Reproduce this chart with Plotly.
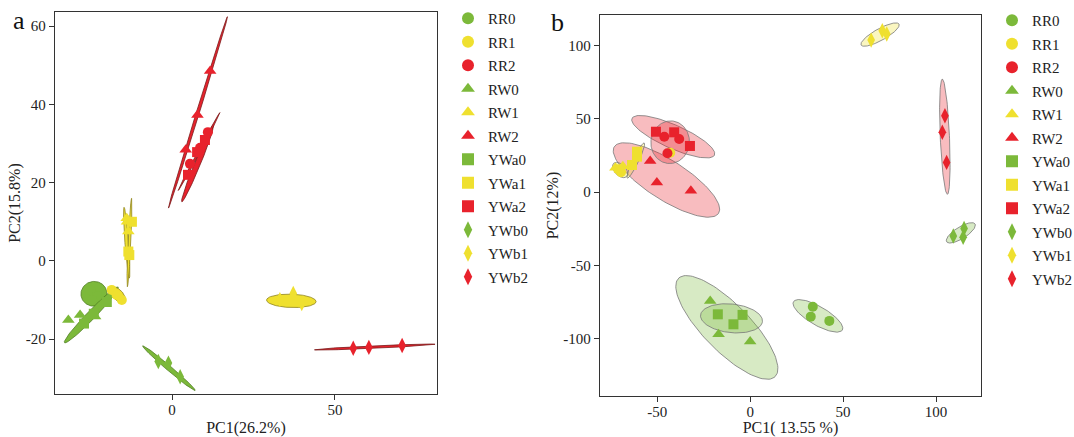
import numpy as np
import plotly.graph_objects as go

W, H = 1074, 437
GROUPS = ["RR0", "RR1", "RR2", "RW0", "RW1", "RW2", "YWa0", "YWa1", "YWa2", "YWb0", "YWb1", "YWb2"]
COLORS = {"0": "#7cb93a", "1": "#efe02f", "2": "#e8222c"}
EDGE_A = {"0": "#4f7d22", "1": "#8f8420", "2": "#7a1a1a"}
SYMBOLS = {"RR": "circle", "RW": "triangle-up", "YWa": "square", "YWb": "diamond-tall"}

# ---------------- panel a: scores ----------------
a_RR0_x = [-25.0, -23.0, -24.5]; a_RR0_y = [-7.5, -9.0, -10.0]
a_RR1_x = [-18.5, -17.0, -15.4]; a_RR1_y = [-7.4, -8.7, -10.0]
a_RR2_x = [5.5, 8.6, 11.0];      a_RR2_y = [24.8, 28.9, 32.9]
a_RW0_x = [-31.8, -28.2, -23.6]; a_RW0_y = [-15.1, -13.8, -14.2]
a_RW1_x = [-13.9, -13.4, -13.8]; a_RW1_y = [10.9, 7.5, 10.0]
a_RW2_x = [4.2, 7.8, 11.7];      a_RW2_y = [28.4, 37.3, 48.5]
a_YWa0_x = [-27.0, -24.0, -20.0]; a_YWa0_y = [-16.0, -13.5, -10.5]
a_YWa1_x = [-12.3, -13.4, -13.1]; a_YWa1_y = [10.0, 2.4, 1.5]
a_YWa2_x = [4.9, 7.7, 10.1];     a_YWa2_y = [22.0, 27.8, 30.9]
a_YWb0_x = [-4.2, -1.1, 2.5];    a_YWb0_y = [-25.7, -26.1, -29.6]
a_YWb1_x = [33.1, 37.2, 39.8];   a_YWb1_y = [-9.9, -8.3, -10.9]
a_YWb2_x = [55.6, 60.4, 70.6];   a_YWb2_y = [-22.3, -22.1, -21.6]

# panel a ellipses: group, major-axis end points (x1, y1, x2, y2), minor/major ratio
a_ell_group = ["RR0", "RW0", "YWb0", "RR1", "RW1", "YWa1", "RW2", "RR2", "YWa2", "YWb1", "YWb2"]
a_ell_x1 = [-27.9, -33.0, -9.0, -18.4, -14.7, -12.4, -1.1, 3.0, 1.9, 29.0, 43.7]
a_ell_y1 = [-8.9, -20.9, -21.7, -6.9, 13.7, 16.0, 13.5, 15.1, 18.0, -10.0, -22.7]
a_ell_x2 = [-20.0, -16.5, 7.1, -14.7, -13.1, -13.7, 17.0, 12.7, 14.7, 44.2, 80.7]
a_ell_y2 = [-7.9, -6.7, -33.1, -10.5, -4.4, -6.6, 62.4, 34.7, 37.9, -10.4, -21.3]
a_ell_ratio = [0.95, 0.11, 0.07, 0.55, 0.05, 0.03, 0.015, 0.07, 0.025, 0.27, 0.02]

# ---------------- panel b: scores ----------------
b_RR0_x = [33.7, 32.6, 42.6];    b_RR0_y = [-78.2, -85.0, -87.9]
b_RR1_x = [-69.5, -71.0, -43.0]; b_RR1_y = [13.5, 15.5, 26.8]
b_RR2_x = [-46.2, -38.2, -44.5]; b_RR2_y = [37.7, 36.1, 26.4]
b_RW0_x = [-21.5, -17.0, 0.0];   b_RW0_y = [-74.3, -97.0, -102.0]
b_RW1_x = [-72.5, -70.0, -68.5]; b_RW1_y = [16.5, 15.0, 17.5]
b_RW2_x = [-53.8, -50.2, -31.9]; b_RW2_y = [21.1, 6.4, 0.9]
b_YWa0_x = [-17.4, -4.1, -9.0];  b_YWa0_y = [-83.4, -83.8, -90.2]
b_YWa1_x = [-63.6, -60.9, -60.9]; b_YWa1_y = [18.4, 24.1, 27.5]
b_YWa2_x = [-50.7, -40.9, -32.4]; b_YWa2_y = [41.1, 40.7, 31.4]
b_YWb0_x = [109.3, 115.1, 114.6]; b_YWb0_y = [-30.0, -24.8, -30.9]
b_YWb1_x = [65.1, 71.1, 73.5];   b_YWb1_y = [103.6, 110.0, 107.7]
b_YWb2_x = [104.8, 103.4, 105.7]; b_YWb2_y = [52.0, 40.7, 20.2]

b_ell_group = ["RW0", "YWa0", "RR0", "YWb0", "YWb2", "YWb1", "RW2", "YWa2", "RR2", "YWa1", "RW1"]
b_ell_x1 = [-38.5, -26.7, 23.3, 105.7, 103.4, 59.7, -73.1, -63.6, -41.6, -66.1, -73.5]
b_ell_y1 = [-58.8, -83.9, -74.8, -33.9, 77.0, 100.2, 30.9, 50.2, 48.4, 9.5, 19.5]
b_ell_x2 = [13.4, 6.6, 49.6, 121.0, 106.1, 80.1, -17.0, -19.2, -44.5, -57.0, -66.5]
b_ell_y2 = [-125.9, -88.4, -94.1, -21.8, -1.6, 114.5, -14.5, 25.2, 19.5, 33.4, 10.5]
b_ell_ratio = [0.34, 0.46, 0.33, 0.35, 0.08, 0.27, 0.32, 0.26, 0.9, 0.15, 0.6]

# axes and tick labels
A_XTICKS = [0, 50];                 A_XTEXT = ["0", "50"]
A_YTICKS = [-20, 0, 20, 40, 60];    A_YTEXT = ["-20", "0", "20", "40", "60"]
B_XTICKS = [-50, 0, 50, 100];       B_XTEXT = ["-50", "0", "50", "100"]
B_YTICKS = [-100, -50, 0, 50, 100]; B_YTEXT = ["-100", "-50", "0", "50", "100"]
A_XRANGE = [-35.9, 81.3]; A_YRANGE = [-34.0, 63.6]
B_XRANGE = [-80.8, 124.2]; B_YRANGE = [-139.1, 120.7]
A_XDOM = [55 / W, 437 / W]; A_YDOM = [1 - 394 / H, 1 - 12 / H]
B_XDOM = [600 / W, 981 / W]; B_YDOM = [1 - 396 / H, 1 - 15 / H]


def group_color(g):
    return COLORS[g[-1]]


def ellipse_path(x1, y1, x2, y2, ratio, xr, yr, xd, yd, n=120):
    sx = (xd[1] - xd[0]) * W / (xr[1] - xr[0])
    sy = (yd[1] - yd[0]) * H / (yr[1] - yr[0])
    p1 = np.array([x1 * sx, y1 * sy]); p2 = np.array([x2 * sx, y2 * sy])
    c = (p1 + p2) / 2
    A = (p2 - p1) / 2
    L = np.hypot(*A)
    B = ratio * L * np.array([-A[1], A[0]]) / L
    t = np.linspace(0, 2 * np.pi, n)
    pts = c[:, None] + np.outer(A, np.cos(t)) + np.outer(B, np.sin(t))
    return pts[0] / sx, pts[1] / sy


def rgba(hexc, a):
    h = hexc.lstrip("#")
    return f"rgba({int(h[0:2],16)},{int(h[2:4],16)},{int(h[4:6],16)},{a})"


fig = go.Figure()
font = "Liberation Serif, Times New Roman, serif"

# panel a ellipses (opaque)
for g, x1, y1, x2, y2, r in zip(a_ell_group, a_ell_x1, a_ell_y1, a_ell_x2, a_ell_y2, a_ell_ratio):
    ex, ey = ellipse_path(x1, y1, x2, y2, r, A_XRANGE, A_YRANGE, A_XDOM, A_YDOM)
    fig.add_trace(go.Scatter(x=ex, y=ey, mode="lines", fill="toself", fillcolor=group_color(g),
                             line=dict(color=EDGE_A[g[-1]], width=0.8), showlegend=False,
                             hoverinfo="skip", xaxis="x", yaxis="y"))

# panel b ellipses (translucent)
for g, x1, y1, x2, y2, r in zip(b_ell_group, b_ell_x1, b_ell_y1, b_ell_x2, b_ell_y2, b_ell_ratio):
    ex, ey = ellipse_path(x1, y1, x2, y2, r, B_XRANGE, B_YRANGE, B_XDOM, B_YDOM)
    fig.add_trace(go.Scatter(x=ex, y=ey, mode="lines", fill="toself", fillcolor=rgba(group_color(g), 0.3),
                             line=dict(color="rgba(120,120,120,0.8)", width=1), showlegend=False,
                             hoverinfo="skip", xaxis="x2", yaxis="y2"))

data = globals()
for panel, xa, ya, leg in [("a", "x", "y", "legend"), ("b", "x2", "y2", "legend2")]:
    for g in GROUPS:
        sym = SYMBOLS[g[:-1]]
        size = 10 if sym in ("circle", "square") else 11
        fig.add_trace(go.Scatter(
            x=data[f"{panel}_{g}_x"], y=data[f"{panel}_{g}_y"], mode="markers", name=g,
            marker=dict(symbol=sym, color=group_color(g), size=size, line=dict(width=0)),
            xaxis=xa, yaxis=ya, legend=leg, legendgroup=f"{panel}{g}"))

axis_common = dict(showline=True, linecolor="#333333", linewidth=1.3, mirror=True, ticks="outside",
                   ticklen=5, tickcolor="#333333", showgrid=False, zeroline=False, automargin=False,
                   tickfont=dict(family=font, size=15, color="#222222"))
title_font = dict(family=font, size=16, color="#222222")
legend_common = dict(font=dict(family=font, size=15, color="#222222"), itemsizing="constant",
                     tracegroupgap=1, bgcolor="rgba(0,0,0,0)", xanchor="left", yanchor="top")

fig.update_layout(
    width=W, height=H, margin=dict(l=0, r=0, t=0, b=0, pad=0, autoexpand=False),
    paper_bgcolor="white", plot_bgcolor="white",
    xaxis=dict(domain=A_XDOM, range=A_XRANGE, tickvals=A_XTICKS, ticktext=A_XTEXT, anchor="y",
               ticklabelstandoff=-3,
               title=dict(text="PC1(26.2%)", font=title_font, standoff=5), **axis_common),
    yaxis=dict(domain=A_YDOM, range=A_YRANGE, tickvals=A_YTICKS, ticktext=A_YTEXT, anchor="x",
               title=dict(text="PC2(15.8%)", font=title_font, standoff=1), **axis_common),
    xaxis2=dict(domain=B_XDOM, range=B_XRANGE, tickvals=B_XTICKS, ticktext=B_XTEXT, anchor="y2",
                ticklabelstandoff=-3,
                title=dict(text="PC1( 13.55 %)", font=title_font, standoff=5), **axis_common),
    yaxis2=dict(domain=B_YDOM, range=B_YRANGE, tickvals=B_YTICKS, ticktext=B_YTEXT, anchor="x2",
                title=dict(text="PC2(12%)", font=title_font, standoff=0), **axis_common),
    legend=dict(x=448 / W, y=1 - 2 / H, **legend_common),
    legend2=dict(x=992 / W, y=1 - 4 / H, **legend_common),
    annotations=[
        dict(text="a", x=19 / W, y=1 - 21 / H, xref="paper", yref="paper", showarrow=False,
             xanchor="center", yanchor="middle", font=dict(family=font, size=26, color="#111111")),
        dict(text="b", x=557 / W, y=1 - 23 / H, xref="paper", yref="paper", showarrow=False,
             xanchor="center", yanchor="middle", font=dict(family=font, size=26, color="#111111")),
    ],
)

fig.write_html("out.html", post_script="document.body.style.margin='0';",
               config={"displayModeBar": False})
